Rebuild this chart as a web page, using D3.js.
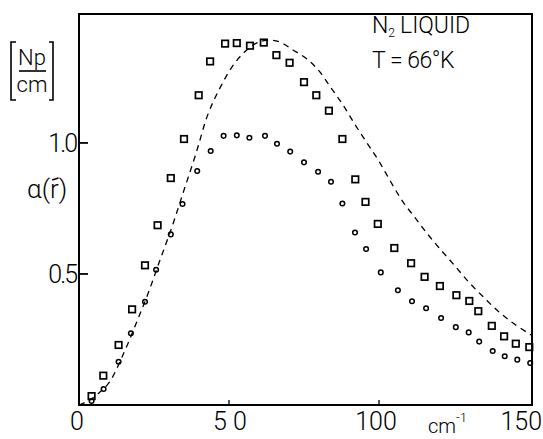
<!DOCTYPE html>
<html><head><meta charset="utf-8">
<script src="https://cdn.jsdelivr.net/npm/d3@7"></script>
<style>html,body{margin:0;padding:0;background:#fff;}svg{display:block;}text{font-family:Roboto,"DejaVu Sans",sans-serif;font-weight:300;fill:#000;}</style>
</head><body>
<svg id="c" width="543" height="439"></svg>
<script>
// Squares series (upper data points)
const sqX = [4.2,8.1,13.2,17.7,22.0,26.2,30.6,35.0,39.9,43.7,48.7,52.6,57.0,61.6,65.8,70.2,75.0,79.1,83.3,87.8,92.1,95.5,99.6,105.1,110.7,115.2,120.3,125.8,130.1,133.1,137.6,141.7,145.6,150.1];
const sqY = [0.034,0.112,0.229,0.365,0.533,0.686,0.866,1.015,1.182,1.311,1.379,1.381,1.371,1.383,1.335,1.306,1.232,1.182,1.123,1.015,0.861,0.775,0.691,0.599,0.541,0.489,0.454,0.419,0.397,0.358,0.302,0.262,0.234,0.221];
// Circles series (lower data points)
const ciX = [4.2,8.2,13.2,17.3,22.0,25.7,30.6,34.5,39.4,43.9,48.2,52.6,56.8,62.0,66.0,70.4,75.0,79.7,84.0,87.8,92.0,95.7,100.6,106.3,111.0,115.7,120.7,125.6,129.9,133.4,137.9,141.9,146.1,150.4];
const ciY = [0.015,0.061,0.165,0.274,0.394,0.516,0.651,0.767,0.893,0.969,1.027,1.029,1.020,1.027,0.997,0.967,0.926,0.890,0.852,0.769,0.658,0.595,0.506,0.438,0.396,0.369,0.332,0.297,0.277,0.242,0.206,0.186,0.173,0.160];
// Dashed theoretical curve
const cvX = [0,3,6,10,15,19,23,27,31,35,39,43,47,51,55,59,63,67,71,76,80,84,88,92,96,100,104,108,112,116,120,125,130,135,140,145,151];
const cvY = [0,0.015,0.04,0.085,0.2,0.31,0.425,0.553,0.68,0.82,0.96,1.11,1.21,1.29,1.345,1.38,1.392,1.385,1.357,1.32,1.275,1.21,1.145,1.07,1.0,0.93,0.85,0.775,0.715,0.655,0.6,0.535,0.468,0.41,0.355,0.31,0.265];
// Tick labels
const xTicks = [0,50,100,150];
const xTickLabels = ["0","5 0","100","150"];
const yTicks = [0.5,1.0];
const yTickLabels = ["0.5","1.0"];

const svg = d3.select("#c");
const x = d3.scaleLinear().domain([0,151]).range([79,532]);
const y = d3.scaleLinear().domain([0,1.492]).range([405,14]);

// frame
svg.append("rect").attr("x",x(0)).attr("y",y(1.492)).attr("width",x(151)-x(0)).attr("height",y(0)-y(1.492))
  .attr("fill","none").attr("stroke","#000").attr("stroke-width",2);

// ticks (inside)
svg.selectAll(".yt").data(yTicks).enter().append("line")
  .attr("x1",x(0)).attr("x2",x(0)+9).attr("y1",d=>y(d)).attr("y2",d=>y(d)).attr("stroke","#000").attr("stroke-width",1.8);
svg.selectAll(".xt").data(xTicks.slice(1,3)).enter().append("line")
  .attr("x1",d=>x(d)).attr("x2",d=>x(d)).attr("y1",y(0)).attr("y2",y(0)-5).attr("stroke","#000").attr("stroke-width",1.3);

// tick labels
svg.selectAll(".yl").data(yTicks).enter().append("text")
  .attr("x",x(0)-3).attr("y",d=>y(d)+9).attr("text-anchor","end").attr("font-size",25).attr("letter-spacing",-2)
  .text((d,i)=>yTickLabels[i]);
svg.selectAll(".xl").data(xTicks).enter().append("text")
  .attr("x",(d,i)=>i===3?542:x(d)-(i===0?2:(i===2?3:-1))).attr("y",430)
  .attr("text-anchor",(d,i)=>i===3?"end":"middle").attr("font-size",25)
  .attr("xml:space","preserve")
  .text((d,i)=>xTickLabels[i]);

// unit cm^-1
const cm = svg.append("text").attr("x",428).attr("y",433).attr("font-size",20);
cm.append("tspan").text("cm");
cm.append("tspan").attr("dy",-11).attr("font-size",13).text("-1");

// curve
const line = d3.line().x(d=>x(d[0])).y(d=>y(d[1])).curve(d3.curveCatmullRom);
svg.append("path").datum(cvX.map((v,i)=>[v,cvY[i]])).attr("d",line)
  .attr("fill","none").attr("stroke","#000").attr("stroke-width",1.3).attr("stroke-dasharray","6,5");

// squares
const s = 6.5;
svg.selectAll(".sq").data(sqX.map((v,i)=>[v,sqY[i]])).enter().append("rect")
  .attr("x",d=>x(d[0])-s/2).attr("y",d=>y(d[1])-s/2).attr("width",s).attr("height",s)
  .attr("fill","none").attr("stroke","#000").attr("stroke-width",1.7);
// circles
svg.selectAll(".ci").data(ciX.map((v,i)=>[v,ciY[i]])).enter().append("circle")
  .attr("cx",d=>x(d[0])).attr("cy",d=>y(d[1])).attr("r",2.3)
  .attr("fill","none").attr("stroke","#000").attr("stroke-width",1.5);

// annotation
const t1 = svg.append("text").attr("x",372).attr("y",33).attr("font-size",23);
t1.append("tspan").text("N");
t1.append("tspan").attr("font-size",12).attr("dy",4).text("2");
t1.append("tspan").attr("dy",-4).attr("dx",5).text("LIQUID");
svg.append("text").attr("x",372).attr("y",68).attr("font-size",23).attr("letter-spacing",-0.5).text("T = 66°K");

// y-axis label
svg.append("text").attr("x",32).attr("y",65).attr("text-anchor","middle").attr("font-size",22).text("Np");
svg.append("line").attr("x1",19).attr("x2",46).attr("y1",71).attr("y2",71).attr("stroke","#000").attr("stroke-width",1.6);
svg.append("text").attr("x",32).attr("y",92).attr("text-anchor","middle").attr("font-size",22).text("cm");
svg.append("path").attr("d","M16,42H11V100H16").attr("fill","none").attr("stroke","#000").attr("stroke-width",1.6);
svg.append("path").attr("d","M49,42H53V100H49").attr("fill","none").attr("stroke","#000").attr("stroke-width",1.6);
const al = svg.append("text").attr("x",27).attr("y",198).attr("font-size",26);
al.append("tspan").text("α(");
al.append("tspan").attr("class","rv").text("r");
al.append("tspan").text(")");
// small vector mark above r
const rb = al.select(".rv").node().getBBox();
svg.append("line").attr("x1",rb.x+rb.width*0.25).attr("x2",rb.x+rb.width*0.95)
  .attr("y1",rb.y+6).attr("y2",rb.y+4).attr("stroke","#000").attr("stroke-width",1.4);
</script>
</body></html>
